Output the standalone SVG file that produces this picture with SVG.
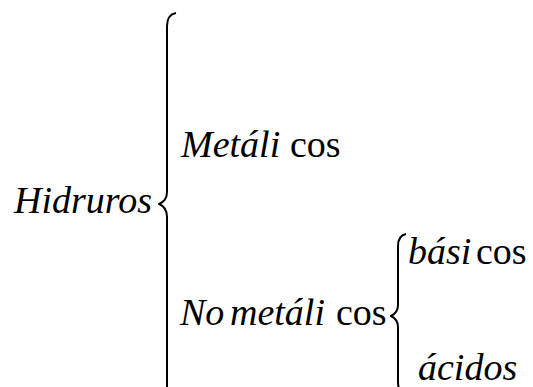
<svg xmlns="http://www.w3.org/2000/svg" width="533" height="387" viewBox="0 0 533 387">
<style>
.t{font-family:"Times New Roman",Times,"Liberation Serif","DejaVu Serif",serif;font-size:38px;fill:#000}
.i{font-style:italic}
.brace{fill:none;stroke:#000;stroke-width:2;stroke-linejoin:round}
</style>
<rect width="533" height="387" fill="#fff"/>
<g id="connectors">
<path class="brace" d="M176 13 C170 14 167 18 167 26 L167 192 C167 199 164 202 159 204 C164 206 167 210 167 217 L167 400"/>
<path class="brace" d="M406 234 C401 235 398 239 398 246 L398 305 C398 311 395 314 391 316 C395 318 398 321 398 327 L398 382 C398 389 401 393 406 394"/>
</g>
<g id="hidruros"><text class="t i" x="14" y="213">Hidruros</text></g>
<g id="metalicos"><text class="t" y="157"><tspan class="i" x="181">Metáli</tspan><tspan x="290">cos</tspan></text></g>
<g id="nometalicos"><text class="t" y="325"><tspan class="i" x="180">No</tspan><tspan class="i" x="230">metáli</tspan><tspan x="336">cos</tspan></text></g>
<g id="basicos"><text class="t" y="264"><tspan class="i" x="408">bási</tspan><tspan x="476">cos</tspan></text></g>
<g id="acidos"><text class="t i" x="418" y="380">ácidos</text></g>
</svg>
